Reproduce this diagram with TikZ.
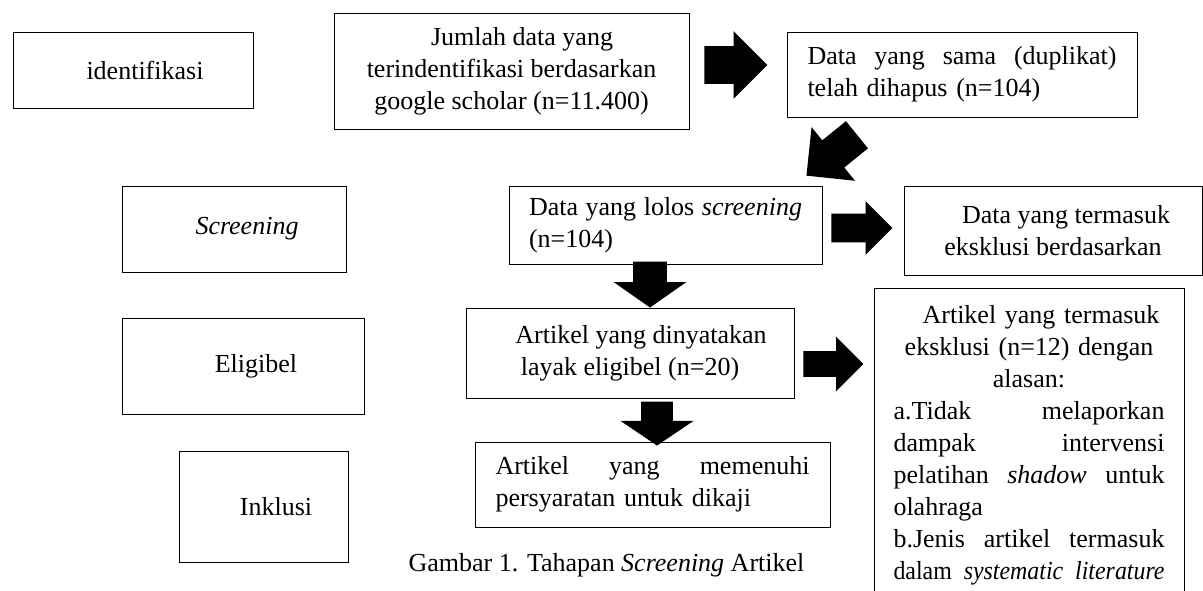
\documentclass[tikz,border=0pt]{standalone}
\usepackage{graphicx}
\usepackage{fontspec}
\setmainfont{Liberation Serif}
\usetikzlibrary{shapes.arrows}
% a line stretched to the given width
\newcommand{\jline}[2]{\leavevmode\hbox to #1{#2}}
\begin{document}
\begin{tikzpicture}[x=0.5pt,y=-0.5pt,font=\fontsize{13}{16}\selectfont,
  box/.style={draw,line width=0.5pt,inner sep=0pt,align=center},
  blk/.style={single arrow,fill=black,inner xsep=0pt,minimum width=0pt,
    single arrow tip angle=90,anchor=tip}]
\useasboundingbox (0,0) rectangle (1203,590);

% stages on the left
\node[box,minimum width=120pt,minimum height=38pt] (ident) at (133,70) {\hspace*{12pt}identifikasi};
\node[box,minimum width=112pt,minimum height=43pt] (scr) at (234,229) {\hspace*{13pt}\textit{Screening}};
\node[box,minimum width=121pt,minimum height=48pt] (elig) at (243,366) {\hspace*{13pt}Eligibel};
\node[box,minimum width=84.25pt,minimum height=55.5pt] (inkl) at (264,506.5) {\hspace*{12pt}Inklusi};

% flow boxes
\node[box,minimum width=177.5pt,minimum height=58pt] (jumlah) at (511.5,71)
  {\hspace*{10.5pt}Jumlah data yang\\terindentifikasi berdasarkan\\google scholar (n=11.400)};
\node[box,align=left,text width=154.5pt,minimum width=175pt,minimum height=42.5pt] (dup) at (962,74.5)
  {\jline{154.5pt}{Data\hfill yang\hfill sama\hfill (duplikat)}\\telah dihapus (n=104)};
\node[box,align=left,text width=136.5pt,minimum width=156.5pt,minimum height=39pt] (lolos) at (665.5,225)
  {\jline{136.5pt}{Data\hfill yang\hfill lolos\hfill \textit{screening}}\\(n=104)};
\node[box,minimum width=149pt,minimum height=44.5pt] (dataeks) at (1053,230.5)
  {\hspace*{13pt}Data yang termasuk\\eksklusi berdasarkan};
\node[box,minimum width=164pt,minimum height=45pt] (layak) at (630,353)
  {\hspace*{11pt}Artikel yang dinyatakan\\layak eligibel (n=20)};
\node[box,align=left,text width=157pt,minimum width=177.5pt,minimum height=42.5pt] (penuhi) at (652.5,484.5)
  {\jline{157pt}{Artikel\hfill yang\hfill memenuhi}\\persyaratan untuk dikaji};
\node[box,anchor=north,text width=135.5pt,minimum width=155pt,inner ysep=8.5pt] (artikeks) at (1029,288)
  {\hspace*{12pt}Artikel yang termasuk\\
   eksklusi (n=12) dengan\\
   alasan:\\
   \jline{135.5pt}{a.Tidak\hfill melaporkan}\\
   \jline{135.5pt}{dampak\hfill intervensi}\\
   \jline{135.5pt}{pelatihan\hfill \textit{shadow}\hfill untuk}\\
   \jline{135.5pt}{olahraga\hfill}\\
   \jline{135.5pt}{b.Jenis\hfill artikel\hfill termasuk}\\
   \leavevmode\resizebox{135.5pt}{\height}{dalam\hspace{0.5em}\textit{systematic}\hspace{0.5em}\textit{literature}}};

% block arrows
\node[blk,minimum height=31.5pt,inner ysep=9.25pt,single arrow head extend=7.5pt] (a1) at (768,65) {};
\node[blk,rotate=219,minimum height=32.5pt,inner ysep=8.55pt,single arrow head extend=8.5pt] (a2) at (806,176) {};
\node[blk,minimum height=30.5pt,inner ysep=7pt,single arrow head extend=6.25pt] (a3) at (893,228) {};
\node[blk,rotate=-90,minimum height=23pt,inner ysep=8.25pt,single arrow head extend=9.75pt,single arrow tip angle=110] (a4) at (650,308) {};
\node[blk,minimum height=30pt,inner ysep=6.25pt,single arrow head extend=7.25pt] (a5) at (864,364) {};
\node[blk,rotate=-90,minimum height=22pt,inner ysep=7.75pt,single arrow head extend=10.25pt,single arrow tip angle=112] (a6) at (657,446) {};

% caption
\node (cap) at (606.5,565) {Gambar 1. Tahapan \textit{Screening} Artikel};
\end{tikzpicture}
\end{document}
